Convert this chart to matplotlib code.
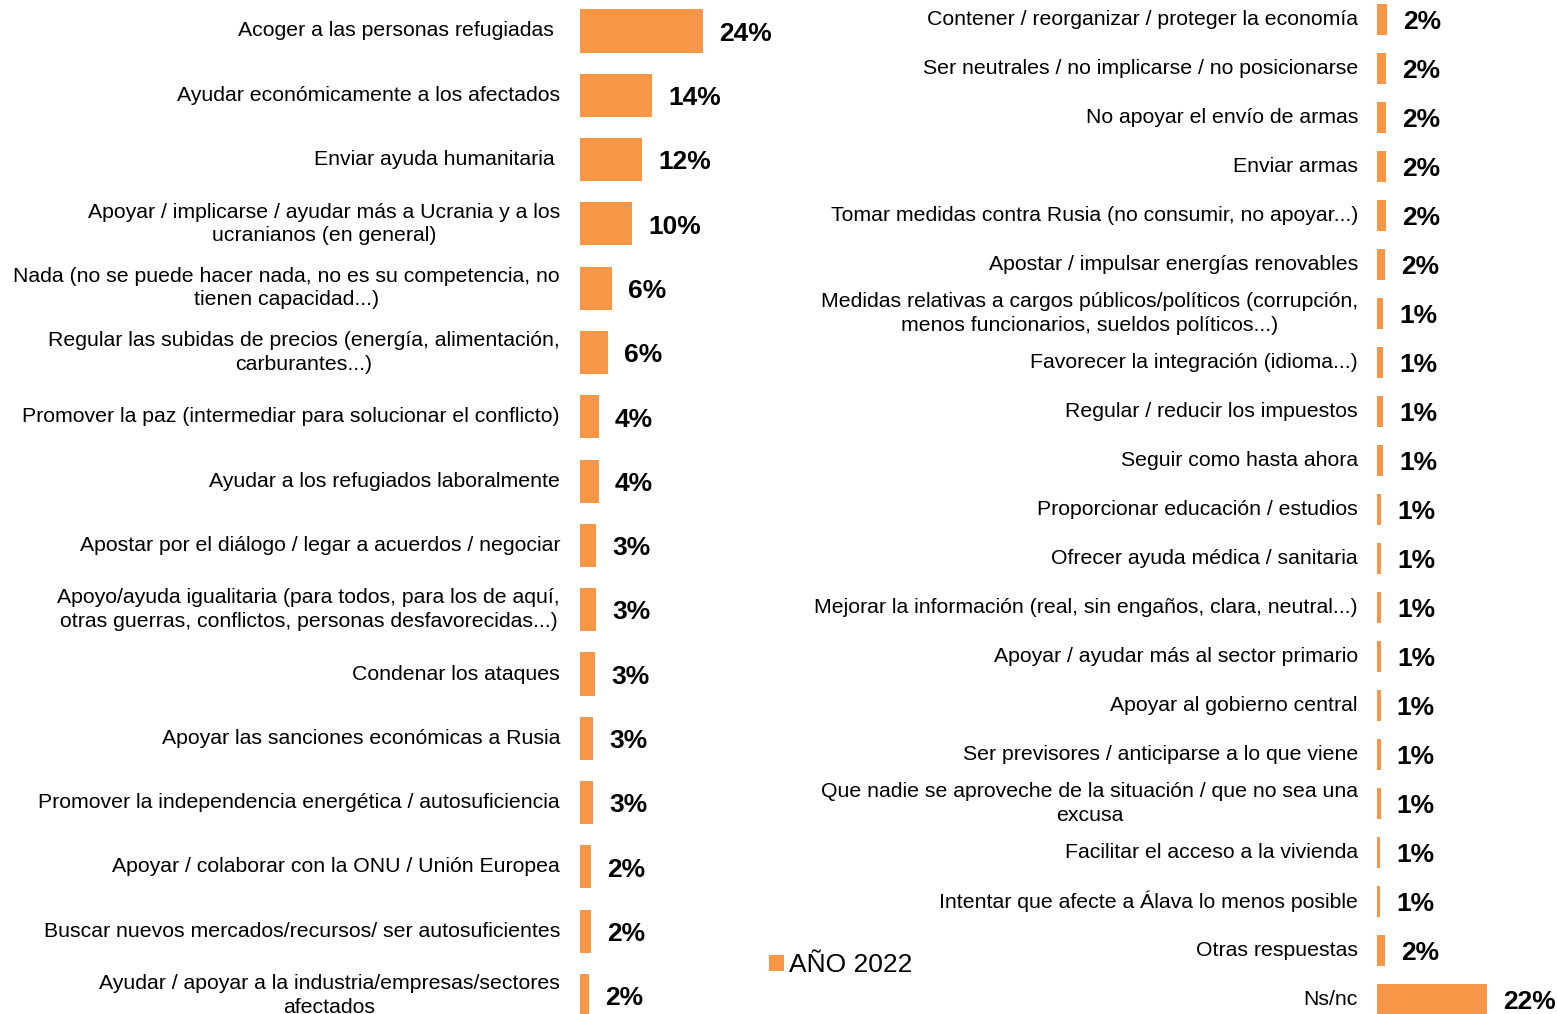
import matplotlib
matplotlib.use("Agg")
import matplotlib.pyplot as plt
from matplotlib.patches import Patch

plt.rcParams['font.family'] = ['Liberation Sans', 'DejaVu Sans']

# Left column of answers (percent of respondents)
left_labels = [
    "Acoger a las personas refugiadas ",
    "Ayudar económicamente a los afectados",
    "Enviar ayuda humanitaria ",
    "Apoyar / implicarse / ayudar más a Ucrania y a los\nucranianos (en general)",
    "Nada (no se puede hacer nada, no es su competencia, no\ntienen capacidad...)",
    "Regular las subidas de precios (energía, alimentación,\ncarburantes...)",
    "Promover la paz (intermediar para solucionar el conflicto)",
    "Ayudar a los refugiados laboralmente",
    "Apostar por el diálogo / legar a acuerdos / negociar",
    "Apoyo/ayuda igualitaria (para todos, para los de aquí,\notras guerras, conflictos, personas desfavorecidas...)",
    "Condenar los ataques",
    "Apoyar las sanciones económicas a Rusia",
    "Promover la independencia energética / autosuficiencia",
    "Apoyar / colaborar con la ONU / Unión Europea",
    "Buscar nuevos mercados/recursos/ ser autosuficientes",
    "Ayudar / apoyar a la industria/empresas/sectores\nafectados",
]
left_values = [24.0, 14.1, 12.1, 10.1, 6.3, 5.5, 3.7, 3.7, 3.2, 3.2,
               2.9, 2.6, 2.6, 2.2, 2.2, 1.8]

# Right column of answers
right_labels = [
    "Contener / reorganizar / proteger la economía",
    "Ser neutrales / no implicarse / no posicionarse",
    "No apoyar el envío de armas",
    "Enviar armas",
    "Tomar medidas contra Rusia (no consumir, no apoyar...)",
    "Apostar / impulsar energías renovables",
    "Medidas relativas a cargos públicos/políticos (corrupción,\nmenos funcionarios, sueldos políticos...)",
    "Favorecer la integración (idioma...)",
    "Regular / reducir los impuestos",
    "Seguir como hasta ahora",
    "Proporcionar educación / estudios",
    "Ofrecer ayuda médica / sanitaria",
    "Mejorar la información (real, sin engaños, clara, neutral...)",
    "Apoyar / ayudar más al sector primario",
    "Apoyar al gobierno central",
    "Ser previsores / anticiparse a lo que viene",
    "Que nadie se aproveche de la situación / que no sea una\nexcusa",
    "Facilitar el acceso a la vivienda",
    "Intentar que afecte a Álava lo menos posible",
    "Otras respuestas",
    "Ns/nc",
]
right_values = [1.94, 1.87, 1.74, 1.74, 1.74, 1.6, 1.2, 1.27, 1.2, 1.2,
                0.87, 0.87, 0.87, 0.87, 0.73, 0.73, 0.73, 0.6, 0.6, 1.55, 22.0]

series_name = "AÑO 2022"
bar_color = "#F79646"

W, H = 1557, 1014
DPI = 100
fig = plt.figure(figsize=(W / DPI, H / DPI), dpi=DPI)


def make_axes(x0_px, px_per_unit, xmax, first_center, step, n):
    """Create axes in pixel terms: x0_px is where value 0 sits."""
    top = first_center - 0.5 * step
    bottom = first_center + (n - 0.5) * step
    width_px = xmax * px_per_unit
    ax = fig.add_axes([x0_px / W, 1 - bottom / H, width_px / W, (bottom - top) / H])
    ax.set_xlim(0, xmax)
    ax.set_ylim(n - 0.5, -0.5)
    for s in ax.spines.values():
        s.set_visible(False)
    ax.set_xticks([])
    ax.patch.set_alpha(0)
    return ax


def draw_panel(ax, labels, values, bar_h, label_pad):
    ys = list(range(len(labels)))
    ax.barh(ys, values, height=bar_h, color=bar_color, edgecolor='none')
    ax.set_yticks(ys)
    ax.set_yticklabels(labels, fontsize=15.35, color='#000000')
    ax.tick_params(axis='y', length=0, pad=label_pad)
    for t in ax.get_yticklabels():
        t.set_multialignment('center')
        t.set_linespacing(1.3)
        t.set_verticalalignment('center')
    for y, v in zip(ys, values):
        ax.annotate(f"{round(v):d}%", xy=(v, y), xytext=(11.5, -2),
                    textcoords='offset points', va='center', ha='left',
                    fontsize=19, fontweight='bold', color='#000000')


ax_left = make_axes(580, 5.14, 30, 31, 64.3, len(left_labels))
draw_panel(ax_left, left_labels, left_values, 0.67, 14.4)

ax_right = make_axes(1377, 4.99, 34, 19.5, 49, len(right_labels))
draw_panel(ax_right, right_labels, right_values, 0.65, 13.7)

fig.legend(handles=[Patch(facecolor=bar_color, edgecolor='none', label=series_name)],
           loc='center left', bbox_to_anchor=(769 / W, 1 - 965 / H),
           frameon=False, fontsize=19, handlelength=0.55, handleheight=0.55,
           handletextpad=0.2, borderpad=0, borderaxespad=0)

fig.savefig("out.png", dpi=DPI)
